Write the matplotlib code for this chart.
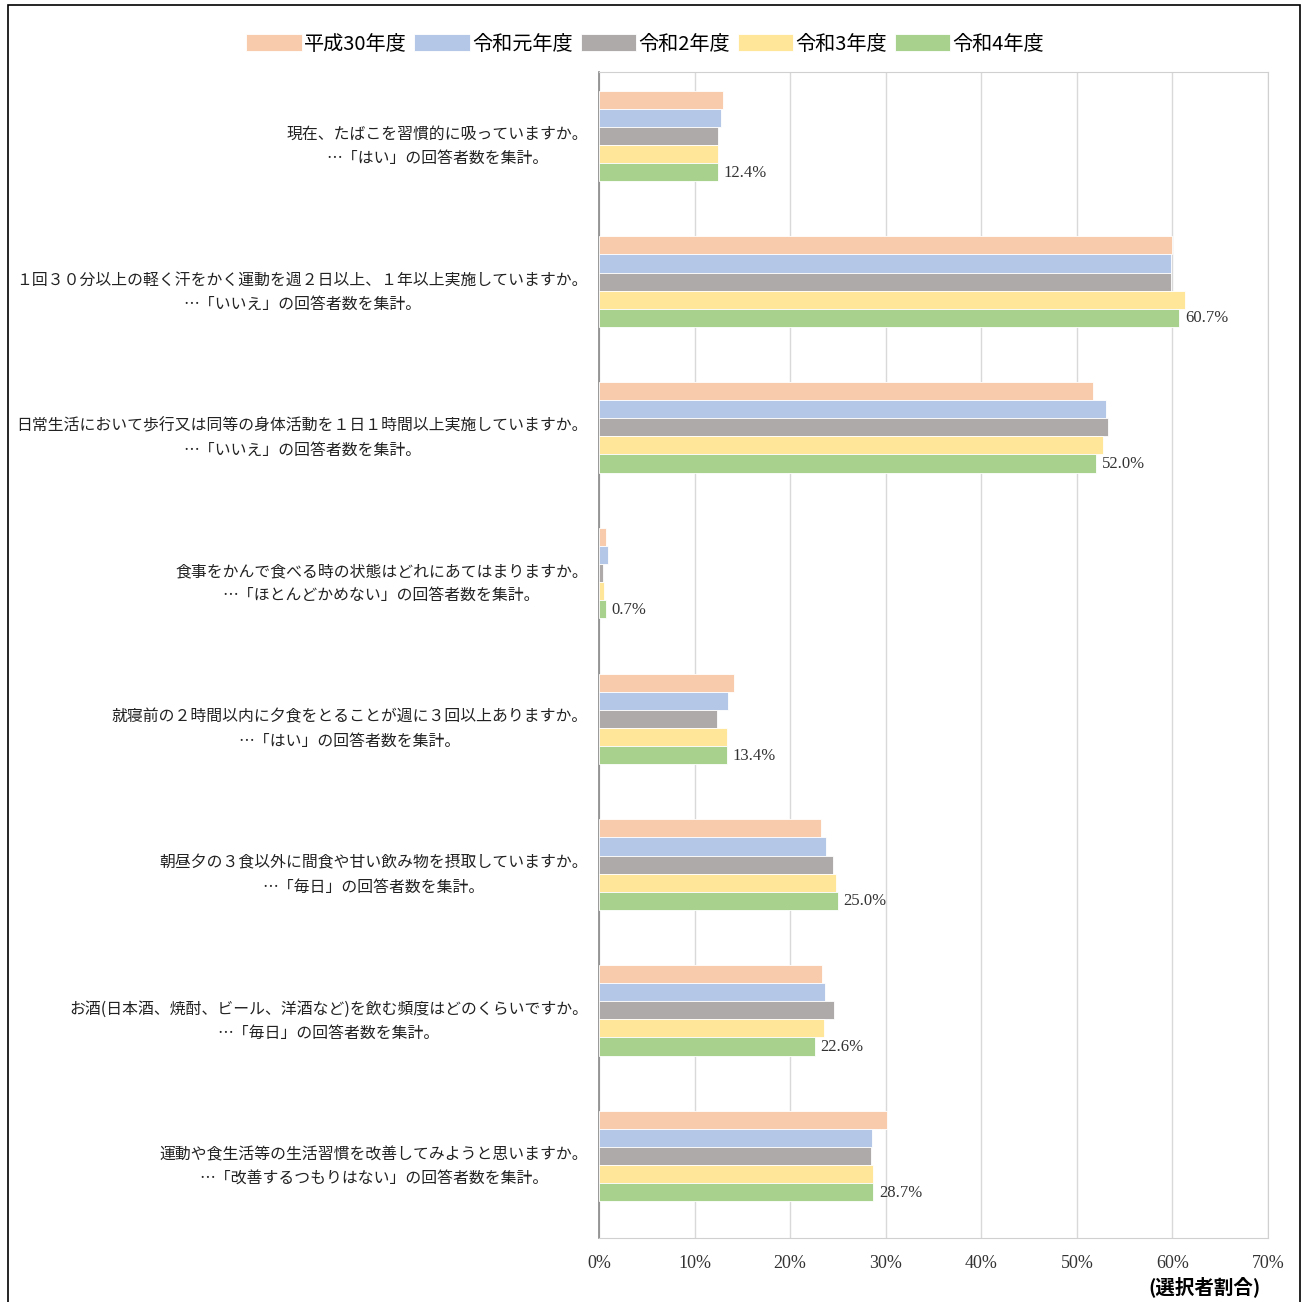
import matplotlib.pyplot as plt
import numpy as np
from matplotlib.patches import Rectangle
from matplotlib.transforms import ScaledTranslation

plt.rcParams['font.family'] = ['Noto Sans CJK JP', 'DejaVu Sans']

questions = [
    "現在、たばこを習慣的に吸っていますか。\n…「はい」の回答者数を集計。",
    "１回３０分以上の軽く汗をかく運動を週２日以上、１年以上実施していますか。\n…「いいえ」の回答者数を集計。",
    "日常生活において歩行又は同等の身体活動を１日１時間以上実施していますか。\n…「いいえ」の回答者数を集計。",
    "食事をかんで食べる時の状態はどれにあてはまりますか。\n…「ほとんどかめない」の回答者数を集計。",
    "就寝前の２時間以内に夕食をとることが週に３回以上ありますか。\n…「はい」の回答者数を集計。",
    "朝昼夕の３食以外に間食や甘い飲み物を摂取していますか。\n…「毎日」の回答者数を集計。",
    "お酒(日本酒、焼酎、ビール、洋酒など)を飲む頻度はどのくらいですか。\n…「毎日」の回答者数を集計。",
    "運動や食生活等の生活習慣を改善してみようと思いますか。\n…「改善するつもりはない」の回答者数を集計。",
]

years = ["平成30年度", "令和元年度", "令和2年度", "令和3年度", "令和4年度"]

h30 = [13.0, 60.0, 51.7, 0.7, 14.1, 23.2, 23.3, 30.1]
r1 = [12.8, 59.8, 53.1, 0.9, 13.5, 23.8, 23.6, 28.6]
r2 = [12.5, 59.8, 53.3, 0.4, 12.3, 24.5, 24.6, 28.5]
r3 = [12.5, 61.3, 52.7, 0.5, 13.4, 24.8, 23.5, 28.7]
r4 = [12.4, 60.7, 52.0, 0.7, 13.4, 25.0, 22.6, 28.7]

colors = ["#F8CBAD", "#B4C7E7", "#AEAAAA", "#FFE699", "#A9D18E"]

fig = plt.figure(figsize=(13.04, 13.02), dpi=100)
ax = fig.add_axes([599 / 1304, 1 - 1238 / 1302, 669 / 1304, 1166 / 1302])

series = [h30, r1, r2, r3, r4]
y = np.arange(len(questions))
bh = 0.124
for i, vals in enumerate(series):
    ax.barh(y + (i - 2.5) * bh, vals, height=bh, color=colors[i],
            edgecolor="white", linewidth=0.6, label=years[i], zorder=3)

for yi, v in zip(y, r4):
    ax.text(v + 0.6, yi + 1.5 * bh + 0.005, f"{v:.1f}%", va="center", ha="left",
            fontsize=12, family="Liberation Serif", color="#333333")

ax.set_xlim(0, 70)
ax.set_ylim(len(questions) - 0.5, -0.5)
ax.set_xticks(range(0, 71, 10))
ax.set_xticklabels([f"{t}%" for t in range(0, 71, 10)], family="Liberation Serif",
                   fontsize=13, color="#333333")
ax.tick_params(axis="x", length=0, pad=12)
ax.set_yticks(y)
ax.set_yticklabels(questions, fontsize=11.4, color="#222222", multialignment="center",
                   linespacing=1.55)
ax.tick_params(axis="y", length=0, pad=8)
shift = ScaledTranslation(0, 4 / 100, fig.dpi_scale_trans)
for lbl in ax.get_yticklabels():
    lbl.set_transform(lbl.get_transform() + shift)
ax.grid(axis="x", color="#D9D9D9", linewidth=1, zorder=0)
for s in ["top", "right", "bottom"]:
    ax.spines[s].set_color("#D0D0D0")
ax.spines["left"].set_color("#888888")
ax.spines["left"].set_linewidth(1.2)

fig.legend(loc="center", bbox_to_anchor=(645 / 1304, 1 - 44 / 1302), ncol=5,
           frameon=False, fontsize=14.5, handlelength=2.75, handleheight=0.85,
           handletextpad=0.1, columnspacing=0.4, borderaxespad=0)

fig.text(1205 / 1304, 1 - 1287 / 1302, "(選択者割合)", ha="center", va="center",
         fontsize=14, fontweight="bold")

fig.patches.append(Rectangle((8 / 1304, -0.01), 1292 / 1304, 1.01 - 5 / 1302,
                             transform=fig.transFigure, fill=False,
                             edgecolor="black", linewidth=1.2))

fig.savefig("out.png", dpi=100)
